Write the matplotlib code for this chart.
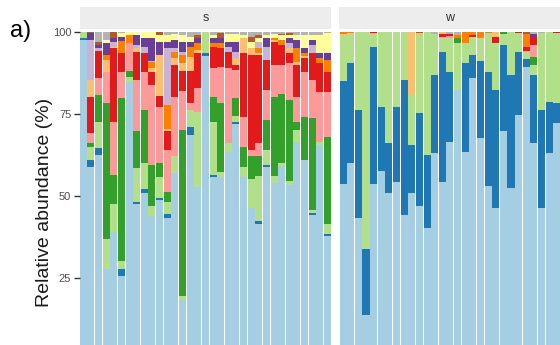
import numpy as np
import matplotlib.pyplot as plt

plt.rcParams['font.family'] = ['Liberation Sans', 'DejaVu Sans']

# Paired palette, stacked bottom -> top
layer_colors = ['#A6CEE3', '#1F78B4', '#B2DF8A', '#33A02C', '#FB9A99', '#E31A1C',
                '#FDBF6F', '#FF7F00', '#CAB2D6', '#6A3D9A', '#FFFF99', '#B15928', '#B3B3B3']

# site "s": one list per layer, one value per sample (%)
s_light_blue = [97.6, 58.8, 62.4, 27.5, 38.9, 25.5, 84.7, 47.4, 50.9, 43.9, 48.7, 43.1, 56.9, 18.2, 68.5, 52.8, 92.7,
                55.8, 55.6, 63.4, 71.9, 55.6, 46.3, 41.4, 58.9, 54.0, 59.0, 53.3, 66.0, 60.9, 44.1, 65.5, 37.7]
s_blue = [0.7, 2.1, 2.1, 0, 0, 2.0, 0, 0.8, 1.2, 0, 0.7, 1.3, 0, 0, 2.5, 0, 1.0,
          0.5, 0, 0, 0.7, 0, 0, 1.0, 0.5, 0, 0, 0, 0, 0, 0.5, 0, 0.5]
s_light_green = [1.7, 4.0, 8.1, 9.2, 8.6, 2.7, 1.6, 10.3, 7.8, 2.8, 6.4, 3.8, 5.1, 1.2, 5.2, 22.7, 6.3,
                 16.3, 1.7, 2.6, 1.6, 3.3, 8.7, 13.6, 4.6, 2.0, 1.0, 1.3, 4.1, 0, 1.0, 1.0, 3.1]
s_green = [0, 1.2, 8.2, 41.5, 8.8, 49.6, 1.9, 11.1, 16.3, 12.7, 4.2, 3.0, 0, 50.6, 0, 0, 0,
           7.6, 20.9, 0, 5.5, 6.1, 7.0, 6.0, 9.1, 24.0, 21.0, 24.6, 2.5, 13.2, 28.0, 0, 26.7]
s_pink = [0, 3.1, 5.1, 9.6, 16.2, 8.1, 8.4, 15.7, 11.7, 24.4, 17.0, 12.8, 18.0, 12.0, 2.0, 7.5, 0,
          8.7, 11.2, 22.9, 8.7, 9.1, 2.0, 4.0, 9.2, 10.0, 9.0, 11.4, 7.6, 13.8, 11.7, 15.3, 13.8]
s_red = [0, 11.0, 8.4, 0, 22.5, 5.6, 0, 8.7, 5.6, 4.0, 3.5, 5.6, 10.0, 6.0, 10.0, 10.5, 0,
         6.5, 5.7, 5.1, 1.6, 19.4, 29.0, 27.0, 9.2, 7.0, 6.0, 3.0, 9.7, 4.1, 8.2, 8.6, 6.1]
s_light_orange = [0, 5.1, 0, 3.7, 0.5, 0, 0, 1.1, 0, 1.2, 12.5, 0.9, 2.0, 2.5, 4.1, 1.0, 0,
                  0, 0, 0, 2.0, 4.7, 2.0, 0.5, 0, 0.5, 0, 1.4, 0.9, 0.8, 0, 0, 0]
s_orange = [0, 0, 0, 1.5, 0, 3.8, 2.5, 0, 0, 1.8, 0, 7.2, 2.0, 2.5, 3.0, 2.0, 0,
            1.2, 1.5, 0, 0, 0, 0, 1.5, 0, 0.5, 1.5, 0, 4.3, 0.8, 0, 1.6, 3.6]
s_lilac = [0, 12.3, 0.7, 0, 1.3, 0, 0, 0.9, 2.0, 0.4, 0, 17.3, 1.0, 1.0, 0, 0, 0,
           0, 0, 1.5, 2.0, 0, 0, 2.0, 4.0, 0, 0, 1.5, 0, 0, 2.5, 0, 0]
s_purple = [0, 2.2, 1.0, 3.6, 1.2, 1.2, 0, 3.1, 2.6, 7.0, 4.0, 2.0, 2.5, 3.0, 1.7, 1.5, 0,
            1.6, 1.6, 1.5, 3.0, 0, 0, 0, 2.6, 0, 0, 1.5, 2.5, 1.5, 1.6, 1.5, 2.1]
s_yellow = [0, 0, 0, 1.0, 0, 1.2, 0.9, 0.9, 1.9, 1.8, 2.0, 2.0, 2.0, 2.0, 1.5, 0, 0,
            0.8, 0, 2.5, 2.5, 0.8, 2.0, 1.0, 1.0, 1.5, 1.5, 1.0, 1.5, 4.0, 1.5, 5.5, 6.1]
s_brown = [0, 0.2, 1.0, 0, 2.0, 0, 0, 0, 0, 0, 1.0, 0, 0, 0, 0, 1.0, 0,
           0, 1.5, 0, 0, 0, 1.5, 1.0, 0, 0, 0.5, 0.6, 0, 0, 0, 0, 0]
s_grey = [0, 0, 3.0, 2.4, 0, 0.3, 0, 0, 0, 0, 0, 1.0, 0.5, 1.0, 1.5, 1.0, 0,
          1.0, 0.3, 0.5, 0.5, 1.0, 1.5, 1.0, 0.9, 0.5, 0.5, 0.4, 0.9, 0.9, 0.9, 1.0, 0.3]

# site "w"
w_light_blue = [53.6, 59.9, 43.1, 13.6, 53.6, 57.6, 50.7, 54.3, 44.1, 50.7, 46.7, 40.1, 63.0, 54.3, 66.5,
                82.3, 63.4, 85.9, 67.5, 53.0, 46.2, 69.6, 52.3, 74.7, 89.4, 66.0, 46.2, 63.0, 72.1]
w_blue = [31.7, 30.5, 33.1, 20.0, 41.9, 19.4, 15.3, 22.7, 41.2, 14.8, 28.5, 22.3, 23.9, 39.7, 21.4,
          0, 27.2, 7.1, 23.7, 34.9, 36.1, 26.4, 34.6, 19.3, 2.3, 20.9, 30.0, 15.7, 6.1]
w_light_green = [14.1, 9.0, 23.8, 66.4, 3.9, 23.0, 34.0, 23.0, 14.7, 15.3, 24.0, 37.6, 12.6, 4.0, 10.1,
                 14.4, 5.9, 5.6, 6.9, 11.8, 14.4, 3.4, 13.1, 5.6, 2.3, 3.0, 23.5, 21.3, 21.5]
w_green = [0, 0, 0, 0, 0, 0, 0, 0, 0, 0, 0, 0, 0, 0, 0,
           1.5, 0, 0, 0, 0, 0, 0.6, 0, 0, 0, 2.4, 0, 0, 0]
w_pink = [0, 0, 0, 0, 0.3, 0, 0, 0, 0, 0, 0, 0, 0, 0.6, 0.8,
          0, 0, 0, 0, 0, 0, 0, 0, 0, 0.3, 3.7, 0, 0, 0]
w_red = [0, 0, 0, 0, 0.3, 0, 0, 0, 0, 0, 0, 0, 0, 0.8, 0.6,
         0, 0, 0.5, 0, 0, 1.9, 0, 0, 0.4, 1.1, 2.4, 0, 0, 0.3]
w_light_orange = [0.3, 0.2, 0, 0, 0, 0, 0, 0, 0, 19.2, 0.4, 0, 0, 0.6, 0,
                  0, 0, 0, 0, 0, 1.4, 0, 0, 0, 0, 0, 0, 0, 0]
w_orange = [0.5, 0.4, 0, 0, 0, 0, 0, 0, 0, 0, 0, 0, 0, 0, 0,
            0.9, 3.5, 0.9, 1.9, 0.3, 0, 0, 0, 0, 4.0, 0, 0, 0, 0]
w_lilac = [0] * 29
w_purple = [0, 0, 0, 0, 0, 0, 0, 0, 0, 0, 0, 0, 0, 0, 0,
            0, 0, 0, 0, 0, 0, 0, 0, 0, 0, 1.0, 0, 0, 0]
w_yellow = [0] * 29
w_brown = [0, 0, 0, 0, 0, 0, 0, 0, 0, 0, 0.4, 0, 0, 0, 0,
           0, 0, 0, 0, 0, 0, 0, 0, 0, 0.6, 0, 0, 0, 0]
w_grey = [0, 0, 0, 0, 0, 0, 0, 0, 0, 0, 0, 0, 0.5, 0, 0.6,
          0.9, 0, 0, 0, 0, 0, 0, 0, 0, 0, 0.6, 0.3, 0, 0]

s_layers = [s_light_blue, s_blue, s_light_green, s_green, s_pink, s_red, s_light_orange,
            s_orange, s_lilac, s_purple, s_yellow, s_brown, s_grey]
w_layers = [w_light_blue, w_blue, w_light_green, w_green, w_pink, w_red, w_light_orange,
            w_orange, w_lilac, w_purple, w_yellow, w_brown, w_grey]

W, H = 560, 345
fig = plt.figure(figsize=(W / 100, H / 100), dpi=100)

panel_top = 29
y_lo, y_hi = 4.4, 100.9
panels = [('s', s_layers, 79.5, 331.3), ('w', w_layers, 339.3, 560.6)]

for i, (name, layers, x0, x1) in enumerate(panels):
    ax = fig.add_axes([x0 / W, 0, (x1 - x0) / W, (H - panel_top) / H])
    data = np.array(layers, dtype=float)
    data = data / data.sum(axis=0) * 100  # relative abundance per sample
    n = data.shape[1]
    x = np.arange(n)
    bottom = np.zeros(n)
    for vals, col in zip(data, layer_colors):
        ax.bar(x, vals, width=0.92, bottom=bottom, color=col, linewidth=0)
        bottom += vals
    ax.set_xlim(-0.5, n - 0.5)
    ax.set_ylim(y_lo, y_hi)
    ax.set_xticks([])
    for sp in ax.spines.values():
        sp.set_visible(False)
    if i == 0:
        ax.set_yticks([25, 50, 75, 100])
        ax.tick_params(axis='y', length=4, width=1, color='#333333', labelsize=8,
                       labelcolor='#4D4D4D', pad=2)
    else:
        ax.set_yticks([])

    # facet strip
    sax = fig.add_axes([x0 / W, (H - panel_top) / H, (x1 - x0) / W, 22 / H])
    sax.set_facecolor('#EDEDED')
    sax.set_xticks([])
    sax.set_yticks([])
    for sp in sax.spines.values():
        sp.set_visible(False)
    sax.text(0.5, 0.5, name, ha='center', va='center', fontsize=9, color='#333333',
             transform=sax.transAxes)

fig.text(45 / W, 1 - 202 / H, 'Relative abundance (%)', rotation=90, ha='center', va='center',
         fontsize=14, color='#1A1A1A')
fig.text(10 / W, 1 - 31 / H, 'a)', ha='left', va='center', fontsize=17, color='black')

fig.savefig('out.png', dpi=100)
